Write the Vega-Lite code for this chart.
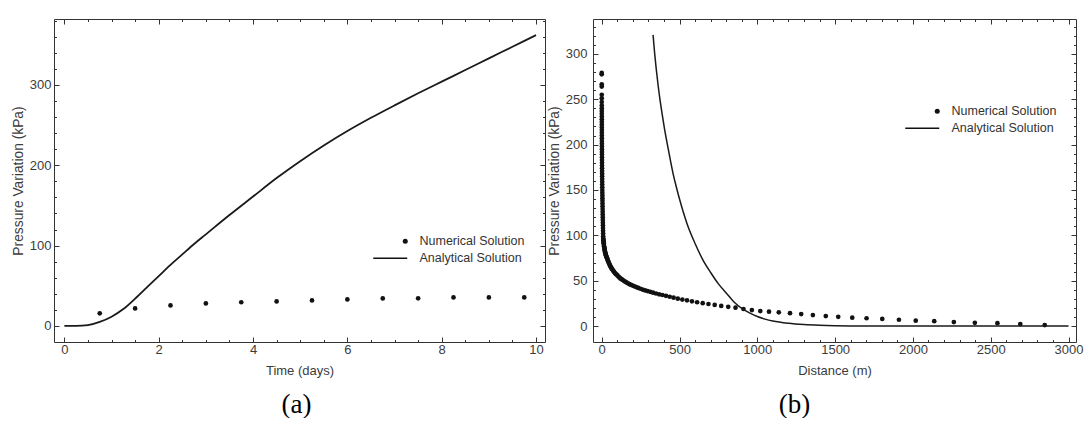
{
  "$schema": "https://vega.github.io/schema/vega-lite/v6.json",
  "background": "white",
  "padding": {"left": 10, "top": 14, "right": 0, "bottom": 0},
  "autosize": {"type": "pad"},
  "config": {
    "view": {"stroke": "#333", "strokeWidth": 1},
    "font": "Liberation Sans",
    "axis": {"domain": false, "grid": false, "labelFont": "Liberation Sans", "labelFontSize": 13, "labelColor": "#3c3c3c", "titleFont": "Liberation Sans", "titleFontSize": 13, "titleFontWeight": "normal", "titleColor": "#3c3c3c", "tickColor": "#333", "labelFlush": false, "labelOverlap": false, "format": "d"},
    "axisY": {"titleFontSize": 13.8},
    "title": {"font": "Liberation Serif", "fontSize": 27, "fontWeight": "normal", "color": "#000", "orient": "bottom", "frame": "group"},
    "legend": {"labelFont": "Liberation Sans", "labelFontSize": 12.5, "labelColor": "#333", "symbolFillColor": "#111", "symbolStrokeWidth": 0, "symbolSize": 25, "labelOffset": 8, "rowPadding": 4, "padding": 0}
  },
  "datasets": {
    "a_line": [
      {"t": 0, "p": 0}, {"t": 0.25, "p": 0}, {"t": 0.5, "p": 1}, {"t": 0.75, "p": 5}, {"t": 1, "p": 11.5}, {"t": 1.25, "p": 21}, {"t": 1.5, "p": 34}, {"t": 1.75, "p": 48}, {"t": 2, "p": 62}, {"t": 2.25, "p": 76}, {"t": 2.5, "p": 89}, {"t": 2.75, "p": 102}, {"t": 3, "p": 114}, {"t": 3.5, "p": 138}, {"t": 4, "p": 161}, {"t": 4.5, "p": 184}, {"t": 5, "p": 205}, {"t": 5.5, "p": 224.5}, {"t": 6, "p": 242.5}, {"t": 6.5, "p": 259}, {"t": 7, "p": 274.5}, {"t": 7.5, "p": 289.5}, {"t": 8, "p": 304}, {"t": 8.5, "p": 318.5}, {"t": 9, "p": 333}, {"t": 9.5, "p": 347.5}, {"t": 10, "p": 362}
    ],
    "a_pts": [
      {"t": 0.75, "p": 15.7, "series": "Numerical Solution"}, {"t": 1.5, "p": 21.8, "series": "Numerical Solution"}, {"t": 2.25, "p": 25.5, "series": "Numerical Solution"}, {"t": 3, "p": 28, "series": "Numerical Solution"}, {"t": 3.75, "p": 29.5, "series": "Numerical Solution"}, {"t": 4.5, "p": 30.5, "series": "Numerical Solution"}, {"t": 5.25, "p": 31.7, "series": "Numerical Solution"}, {"t": 6, "p": 33, "series": "Numerical Solution"}, {"t": 6.75, "p": 34.2, "series": "Numerical Solution"}, {"t": 7.5, "p": 34.3, "series": "Numerical Solution"}, {"t": 8.25, "p": 35.5, "series": "Numerical Solution"}, {"t": 9, "p": 35.5, "series": "Numerical Solution"}, {"t": 9.75, "p": 35.5, "series": "Numerical Solution"}
    ],
    "b_line": [
      {"d": 330, "p": 321}, {"d": 340, "p": 301}, {"d": 350, "p": 284}, {"d": 362, "p": 266}, {"d": 375, "p": 249}, {"d": 390, "p": 232}, {"d": 405, "p": 216}, {"d": 420, "p": 202}, {"d": 440, "p": 184}, {"d": 460, "p": 167}, {"d": 480, "p": 153}, {"d": 500, "p": 140}, {"d": 550, "p": 112}, {"d": 600, "p": 91}, {"d": 650, "p": 73}, {"d": 700, "p": 59}, {"d": 750, "p": 46.5}, {"d": 800, "p": 36.5}, {"d": 850, "p": 26.5}, {"d": 900, "p": 19.5}, {"d": 950, "p": 14.5}, {"d": 1000, "p": 10.5}, {"d": 1050, "p": 7.6}, {"d": 1100, "p": 5.5}, {"d": 1200, "p": 3}, {"d": 1300, "p": 1.6}, {"d": 1400, "p": 0.8}, {"d": 1500, "p": 0.35}, {"d": 1600, "p": 0.15}, {"d": 1800, "p": 0.03}, {"d": 2000, "p": 0}, {"d": 3000, "p": 0}
    ],
    "b_pts": [
      {"d": 0.1, "p": 279, "series": "Numerical Solution"}, {"d": 0.15, "p": 277.5, "series": "Numerical Solution"}, {"d": 0.22, "p": 266.5, "series": "Numerical Solution"}, {"d": 0.25, "p": 264, "series": "Numerical Solution"}, {"d": 0.3, "p": 255, "series": "Numerical Solution"}, {"d": 0.34, "p": 251, "series": "Numerical Solution"}, {"d": 0.38, "p": 247, "series": "Numerical Solution"}, {"d": 0.42, "p": 243, "series": "Numerical Solution"}, {"d": 0.45, "p": 240, "series": "Numerical Solution"}, {"d": 0.5, "p": 237, "series": "Numerical Solution"}, {"d": 0.55, "p": 234, "series": "Numerical Solution"}, {"d": 0.6, "p": 231, "series": "Numerical Solution"}, {"d": 0.65, "p": 228, "series": "Numerical Solution"}, {"d": 0.7, "p": 225, "series": "Numerical Solution"}, {"d": 0.75, "p": 222, "series": "Numerical Solution"}, {"d": 0.8, "p": 219, "series": "Numerical Solution"}, {"d": 0.85, "p": 216, "series": "Numerical Solution"}, {"d": 0.9, "p": 213, "series": "Numerical Solution"}, {"d": 0.95, "p": 210, "series": "Numerical Solution"}, {"d": 1.0, "p": 207, "series": "Numerical Solution"}, {"d": 1.1, "p": 204, "series": "Numerical Solution"}, {"d": 1.2, "p": 201, "series": "Numerical Solution"}, {"d": 1.3, "p": 198, "series": "Numerical Solution"}, {"d": 1.4, "p": 195, "series": "Numerical Solution"}, {"d": 1.5, "p": 192, "series": "Numerical Solution"}, {"d": 1.6, "p": 189, "series": "Numerical Solution"}, {"d": 1.7, "p": 186, "series": "Numerical Solution"}, {"d": 1.8, "p": 183, "series": "Numerical Solution"}, {"d": 1.9, "p": 180, "series": "Numerical Solution"}, {"d": 2.0, "p": 177, "series": "Numerical Solution"}, {"d": 2.2, "p": 174, "series": "Numerical Solution"}, {"d": 2.4, "p": 171, "series": "Numerical Solution"}, {"d": 2.6, "p": 168, "series": "Numerical Solution"}, {"d": 2.8, "p": 165, "series": "Numerical Solution"}, {"d": 3.0, "p": 162, "series": "Numerical Solution"}, {"d": 3.2, "p": 159, "series": "Numerical Solution"}, {"d": 3.4, "p": 156, "series": "Numerical Solution"}, {"d": 3.6, "p": 153, "series": "Numerical Solution"}, {"d": 3.8, "p": 150, "series": "Numerical Solution"}, {"d": 4.0, "p": 147, "series": "Numerical Solution"}, {"d": 4.3, "p": 144, "series": "Numerical Solution"}, {"d": 4.6, "p": 141, "series": "Numerical Solution"}, {"d": 4.9, "p": 138, "series": "Numerical Solution"}, {"d": 5.2, "p": 135, "series": "Numerical Solution"}, {"d": 5.5, "p": 132, "series": "Numerical Solution"}, {"d": 5.8, "p": 129, "series": "Numerical Solution"}, {"d": 6.1, "p": 126, "series": "Numerical Solution"}, {"d": 6.4, "p": 123, "series": "Numerical Solution"}, {"d": 6.7, "p": 120, "series": "Numerical Solution"}, {"d": 7.0, "p": 117, "series": "Numerical Solution"}, {"d": 7.4, "p": 114, "series": "Numerical Solution"}, {"d": 7.8, "p": 111, "series": "Numerical Solution"}, {"d": 8.2, "p": 108, "series": "Numerical Solution"}, {"d": 8.6, "p": 105, "series": "Numerical Solution"}, {"d": 9.0, "p": 102, "series": "Numerical Solution"}, {"d": 9.5, "p": 99, "series": "Numerical Solution"},
      {"d": 10, "p": 96.5, "series": "Numerical Solution"}, {"d": 10.5, "p": 95.5, "series": "Numerical Solution"}, {"d": 11, "p": 94.5, "series": "Numerical Solution"}, {"d": 12, "p": 93, "series": "Numerical Solution"}, {"d": 12.5, "p": 92, "series": "Numerical Solution"}, {"d": 13, "p": 91, "series": "Numerical Solution"}, {"d": 14, "p": 89.5, "series": "Numerical Solution"}, {"d": 15, "p": 88, "series": "Numerical Solution"}, {"d": 16, "p": 87, "series": "Numerical Solution"}, {"d": 17, "p": 86, "series": "Numerical Solution"}, {"d": 18, "p": 85, "series": "Numerical Solution"}, {"d": 19, "p": 84, "series": "Numerical Solution"}, {"d": 20, "p": 83, "series": "Numerical Solution"}, {"d": 21, "p": 82, "series": "Numerical Solution"}, {"d": 22.5, "p": 81, "series": "Numerical Solution"}, {"d": 24, "p": 80, "series": "Numerical Solution"}, {"d": 25, "p": 79.5, "series": "Numerical Solution"}, {"d": 27, "p": 78, "series": "Numerical Solution"}, {"d": 28, "p": 77.3, "series": "Numerical Solution"}, {"d": 30, "p": 76.5, "series": "Numerical Solution"}, {"d": 32, "p": 75.8, "series": "Numerical Solution"}, {"d": 34, "p": 75, "series": "Numerical Solution"}, {"d": 36, "p": 74, "series": "Numerical Solution"}, {"d": 38, "p": 73, "series": "Numerical Solution"}, {"d": 40, "p": 72, "series": "Numerical Solution"}, {"d": 43, "p": 70.8, "series": "Numerical Solution"}, {"d": 45, "p": 70, "series": "Numerical Solution"}, {"d": 48, "p": 68.8, "series": "Numerical Solution"}, {"d": 51, "p": 67.5, "series": "Numerical Solution"}, {"d": 54, "p": 66.5, "series": "Numerical Solution"}, {"d": 57, "p": 65.5, "series": "Numerical Solution"}, {"d": 60, "p": 64.5, "series": "Numerical Solution"}, {"d": 64, "p": 63.5, "series": "Numerical Solution"}, {"d": 68, "p": 62.5, "series": "Numerical Solution"}, {"d": 72, "p": 61.5, "series": "Numerical Solution"}, {"d": 76, "p": 60.5, "series": "Numerical Solution"}, {"d": 80, "p": 59.5, "series": "Numerical Solution"}, {"d": 85, "p": 58.5, "series": "Numerical Solution"}, {"d": 90, "p": 57.5, "series": "Numerical Solution"}, {"d": 95, "p": 56.8, "series": "Numerical Solution"}, {"d": 101, "p": 55.8, "series": "Numerical Solution"}, {"d": 107, "p": 54.6, "series": "Numerical Solution"}, {"d": 113, "p": 53.6, "series": "Numerical Solution"}, {"d": 120, "p": 52.5, "series": "Numerical Solution"}, {"d": 127, "p": 51.7, "series": "Numerical Solution"}, {"d": 134, "p": 50.9, "series": "Numerical Solution"}, {"d": 142, "p": 49.8, "series": "Numerical Solution"}, {"d": 150, "p": 49, "series": "Numerical Solution"}, {"d": 159, "p": 48.1, "series": "Numerical Solution"}, {"d": 168, "p": 47.2, "series": "Numerical Solution"}, {"d": 178, "p": 46.2, "series": "Numerical Solution"}, {"d": 188, "p": 45.4, "series": "Numerical Solution"}, {"d": 199, "p": 44.6, "series": "Numerical Solution"}, {"d": 210, "p": 43.8, "series": "Numerical Solution"}, {"d": 222, "p": 42.9, "series": "Numerical Solution"}, {"d": 235, "p": 42, "series": "Numerical Solution"}, {"d": 249, "p": 41.1, "series": "Numerical Solution"}, {"d": 263, "p": 40.2, "series": "Numerical Solution"}, {"d": 279, "p": 39.3, "series": "Numerical Solution"}, {"d": 295, "p": 38.5, "series": "Numerical Solution"}, {"d": 312, "p": 37.7, "series": "Numerical Solution"}, {"d": 330, "p": 36.8, "series": "Numerical Solution"}, {"d": 349, "p": 35.9, "series": "Numerical Solution"}, {"d": 369, "p": 35, "series": "Numerical Solution"}, {"d": 390, "p": 34.2, "series": "Numerical Solution"}, {"d": 413, "p": 33.3, "series": "Numerical Solution"}, {"d": 437, "p": 32.3, "series": "Numerical Solution"}, {"d": 462, "p": 31.3, "series": "Numerical Solution"}, {"d": 489, "p": 30.2, "series": "Numerical Solution"}, {"d": 518, "p": 29.2, "series": "Numerical Solution"}, {"d": 548, "p": 28.3, "series": "Numerical Solution"}, {"d": 580, "p": 27.2, "series": "Numerical Solution"}, {"d": 613, "p": 26.2, "series": "Numerical Solution"}, {"d": 649, "p": 25.2, "series": "Numerical Solution"}, {"d": 686, "p": 24.3, "series": "Numerical Solution"}, {"d": 726, "p": 23.3, "series": "Numerical Solution"}, {"d": 768, "p": 22.2, "series": "Numerical Solution"}, {"d": 813, "p": 21.2, "series": "Numerical Solution"}, {"d": 860, "p": 20.2, "series": "Numerical Solution"}, {"d": 911, "p": 18.8, "series": "Numerical Solution"}, {"d": 965, "p": 17.6, "series": "Numerical Solution"}, {"d": 1019, "p": 16.5, "series": "Numerical Solution"}, {"d": 1075, "p": 15.8, "series": "Numerical Solution"}, {"d": 1138, "p": 15.1, "series": "Numerical Solution"}, {"d": 1210, "p": 14.2, "series": "Numerical Solution"}, {"d": 1282, "p": 13.2, "series": "Numerical Solution"}, {"d": 1357, "p": 12.1, "series": "Numerical Solution"}, {"d": 1440, "p": 11, "series": "Numerical Solution"}, {"d": 1520, "p": 10.1, "series": "Numerical Solution"}, {"d": 1610, "p": 9.2, "series": "Numerical Solution"}, {"d": 1702, "p": 8.6, "series": "Numerical Solution"}, {"d": 1803, "p": 7.8, "series": "Numerical Solution"}, {"d": 1910, "p": 6.9, "series": "Numerical Solution"}, {"d": 2018, "p": 5.9, "series": "Numerical Solution"}, {"d": 2137, "p": 5.4, "series": "Numerical Solution"}, {"d": 2263, "p": 4.4, "series": "Numerical Solution"}, {"d": 2398, "p": 3.5, "series": "Numerical Solution"}, {"d": 2543, "p": 3.2, "series": "Numerical Solution"}, {"d": 2690, "p": 2.2, "series": "Numerical Solution"}, {"d": 2847, "p": 1.1, "series": "Numerical Solution"}
    ]
  },
  "spacing": 0,
  "resolve": {"scale": {"shape": "independent"}, "legend": {"shape": "independent"}},
  "hconcat": [
    {
      "width": 491,
      "height": 323,
      "title": {"text": "(a)", "dx": -3, "offset": 14},
      "resolve": {"axis": {"x": "independent", "y": "independent"}},
      "layer": [
        {
          "data": {"name": "a_pts"},
          "mark": {"type": "point", "filled": true, "color": "#111", "size": 22, "opacity": 1},
          "encoding": {
            "x": {"field": "t", "type": "quantitative", "scale": {"domain": [-0.22, 10.19], "nice": false, "zero": false},
              "axis": {"orient": "top", "title": null, "labels": false, "values": [0,0.5,1,1.5,2,2.5,3,3.5,4,4.5,5,5.5,6,6.5,7,7.5,8,8.5,9,9.5,10], "tickSize": {"condition": {"test": "datum.value % 2 === 0", "value": -5}, "value": -2.5}}},
            "y": {"field": "p", "type": "quantitative", "scale": {"domain": [-20, 382], "nice": false, "zero": false},
              "axis": {"orient": "right", "title": null, "labels": false, "values": [0,20,40,60,80,100,120,140,160,180,200,220,240,260,280,300,320,340,360,380], "tickSize": {"condition": {"test": "datum.value % 100 === 0", "value": -5}, "value": -2.5}}},
            "shape": {"field": "series", "type": "nominal", "scale": {"domain": ["Numerical Solution", "Analytical Solution"], "range": ["circle", "M-12.8,-0.32H0.8V0.32H-12.8Z"]},
              "legend": {"orient": "none", "legendX": 345, "legendY": 216, "title": null,
                "encode": {"symbols": {"fill": {"value": "#111"}, "opacity": {"value": 1}}}}}
          }
        },
        {
          "data": {"name": "a_line"},
          "mark": {"type": "line", "color": "#1a1a1a", "strokeWidth": 1.8, "interpolate": "monotone"},
          "encoding": {
            "x": {"field": "t", "type": "quantitative", "scale": {"domain": [-0.22, 10.19], "nice": false, "zero": false},
              "axis": {"orient": "bottom", "title": "Time (days)", "values": [0,0.5,1,1.5,2,2.5,3,3.5,4,4.5,5,5.5,6,6.5,7,7.5,8,8.5,9,9.5,10], "tickSize": {"condition": {"test": "datum.value % 2 === 0", "value": -5}, "value": -2.5}, "labelExpr": "datum.value % 2 === 0 ? datum.label : ''", "labelPadding": 6, "titlePadding": 6}},
            "y": {"field": "p", "type": "quantitative", "scale": {"domain": [-20, 382], "nice": false, "zero": false},
              "axis": {"orient": "left", "title": "Pressure Variation (kPa)", "values": [0,20,40,60,80,100,120,140,160,180,200,220,240,260,280,300,320,340,360,380], "tickSize": {"condition": {"test": "datum.value % 100 === 0", "value": -5}, "value": -2.5}, "labelExpr": "datum.value % 100 === 0 ? datum.label : ''", "labelPadding": 8, "titlePadding": 4}}
          }
        }
      ]
    },
    {
      "width": 483,
      "height": 323,
      "title": {"text": "(b)", "dx": -40, "offset": 14},
      "resolve": {"axis": {"x": "independent", "y": "independent"}},
      "layer": [
        {
          "data": {"name": "b_pts"},
          "mark": {"type": "point", "filled": true, "color": "#111", "size": 22, "opacity": 1},
          "encoding": {
            "x": {"field": "d", "type": "quantitative", "scale": {"domain": [-56, 3048], "nice": false, "zero": false},
              "axis": {"orient": "top", "title": null, "labels": false, "values": [0,100,200,300,400,500,600,700,800,900,1000,1100,1200,1300,1400,1500,1600,1700,1800,1900,2000,2100,2200,2300,2400,2500,2600,2700,2800,2900,3000], "tickSize": {"condition": {"test": "datum.value % 500 === 0", "value": -5}, "value": -2.5}}},
            "y": {"field": "p", "type": "quantitative", "scale": {"domain": [-17.6, 338.5], "nice": false, "zero": false},
              "axis": {"orient": "right", "title": null, "labels": false, "values": [0,10,20,30,40,50,60,70,80,90,100,110,120,130,140,150,160,170,180,190,200,210,220,230,240,250,260,270,280,290,300,310,320,330], "tickSize": {"condition": {"test": "datum.value % 50 === 0", "value": -5}, "value": -2.5}}},
            "shape": {"field": "series", "type": "nominal", "scale": {"domain": ["Numerical Solution", "Analytical Solution"], "range": ["circle", "M-12.8,-0.32H0.8V0.32H-12.8Z"]},
              "legend": {"orient": "none", "legendX": 338, "legendY": 86, "title": null,
                "encode": {"symbols": {"fill": {"value": "#111"}, "opacity": {"value": 1}}}}}
          }
        },
        {
          "data": {"name": "b_line"},
          "mark": {"type": "line", "color": "#1a1a1a", "strokeWidth": 1.5, "interpolate": "monotone"},
          "encoding": {
            "x": {"field": "d", "type": "quantitative", "scale": {"domain": [-56, 3048], "nice": false, "zero": false},
              "axis": {"orient": "bottom", "title": "Distance (m)", "values": [0,100,200,300,400,500,600,700,800,900,1000,1100,1200,1300,1400,1500,1600,1700,1800,1900,2000,2100,2200,2300,2400,2500,2600,2700,2800,2900,3000], "tickSize": {"condition": {"test": "datum.value % 500 === 0", "value": -5}, "value": -2.5}, "labelExpr": "datum.value % 500 === 0 ? datum.label : ''", "labelPadding": 6, "titlePadding": 6}},
            "y": {"field": "p", "type": "quantitative", "scale": {"domain": [-17.6, 338.5], "nice": false, "zero": false},
              "axis": {"orient": "left", "title": "Pressure Variation (kPa)", "values": [0,10,20,30,40,50,60,70,80,90,100,110,120,130,140,150,160,170,180,190,200,210,220,230,240,250,260,270,280,290,300,310,320,330], "tickSize": {"condition": {"test": "datum.value % 50 === 0", "value": -5}, "value": -2.5}, "labelExpr": "datum.value % 50 === 0 ? datum.label : ''", "labelPadding": 11, "titlePadding": 4}}
          }
        }
      ]
    }
  ]
}
